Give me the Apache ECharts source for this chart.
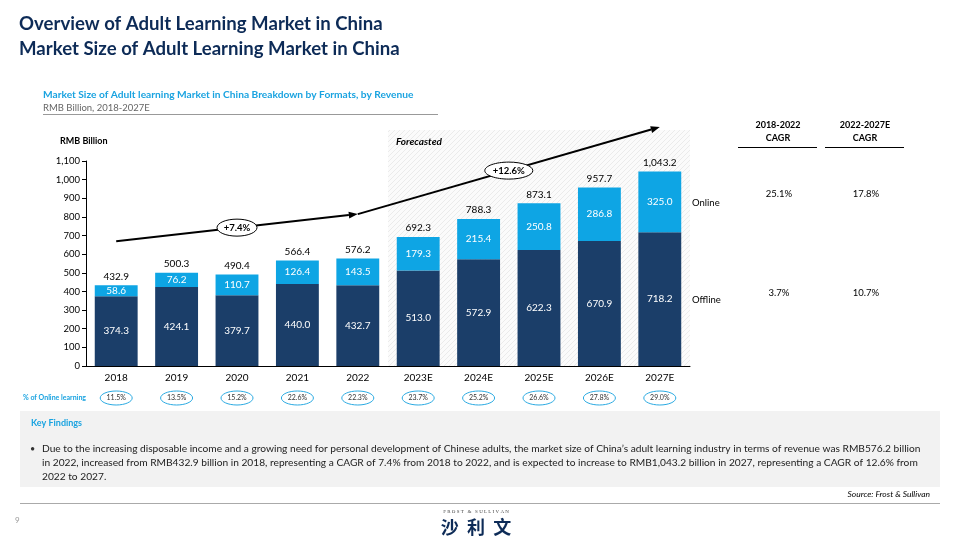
<!DOCTYPE html>
<html><head><meta charset="utf-8">
<script src="https://cdn.jsdelivr.net/npm/echarts@6/dist/echarts.min.js"></script>
<style>html,body{margin:0;padding:0;background:#fff}#c{width:960px;height:540px}</style>
</head><body><div id="c"></div>
<script>
const categories = ['2018','2019','2020','2021','2022','2023E','2024E','2025E','2026E','2027E'];
const offline = [374.3,424.1,379.7,440.0,432.7,513.0,572.9,622.3,670.9,718.2];
const online = [58.6,76.2,110.7,126.4,143.5,179.3,215.4,250.8,286.8,325.0];
const totals = [432.9,500.3,490.4,566.4,576.2,692.3,788.3,873.1,957.7,1043.2];
const onlineShare = ['11.5%','13.5%','15.2%','22.6%','22.3%','23.7%','25.2%','26.6%','27.8%','29.0%'];
const yTicks = [0,100,200,300,400,500,600,700,800,900,1000,1100];
const cagrHeaders = ['2018-2022\nCAGR','2022-2027E\nCAGR'];
const cagrOnline = ['25.1%','17.8%'];
const cagrOffline = ['3.7%','10.7%'];
const periodCagr = ['+7.4%','+12.6%'];

const NAVY = '#1b3e69', BLUE = '#0ea5e4', TITLE = '#0d2b57', SUB = '#1aa3e0';
const FONT = "Lato, 'Open Sans', sans-serif";
const chart = echarts.init(document.getElementById('c'), null, {renderer:'canvas'});

function fmt(v){ return v.toLocaleString('en-US',{minimumFractionDigits:1,maximumFractionDigits:1}); }

chart.setOption({
  animation:false,
  backgroundColor:'#fff',
  grid:{left:86, right:270, top:161, bottom:174, containLabel:false},
  xAxis:{type:'category', data:categories,
    axisLine:{lineStyle:{color:'#000', width:1}}, axisTick:{show:false},
    axisLabel:{color:'#000', fontSize:10, fontFamily:FONT, margin:7}},
  yAxis:{type:'value', min:yTicks[0], max:yTicks[yTicks.length-1], interval:100,
    axisLine:{show:true, lineStyle:{color:'#000'}}, axisTick:{show:true, length:4, lineStyle:{color:'#000'}},
    splitLine:{show:false},
    axisLabel:{color:'#000', fontSize:9.5, fontFamily:FONT, margin:6,
      formatter:v=>v.toLocaleString('en-US')}},
  series:[
    {name:'Offline', type:'bar', stack:'t', data:offline, barWidth:'71%', z:3,
     itemStyle:{color:NAVY},
     label:{show:true, position:'inside', color:'#fff', fontSize:10, fontFamily:FONT, formatter:p=>fmt(p.value)}},
    {name:'Online', type:'bar', stack:'t', data:online, barWidth:'71%', z:3,
     itemStyle:{color:BLUE},
     label:{show:true, position:'inside', color:'#fff', fontSize:10, fontFamily:FONT, formatter:p=>fmt(p.value)}},
    {name:'Total', type:'bar', stack:'t', data:online.map(()=>0), barWidth:'71%', z:3,
     itemStyle:{color:'transparent'},
     label:{show:true, position:'top', distance:4, color:'#000', fontSize:10, fontFamily:FONT,
       formatter:p=>fmt(totals[p.dataIndex])}}
  ]
});

function px(i, v){ return chart.convertToPixel({gridIndex:0}, [i, v]); }

// hatch pattern
const pc = document.createElement('canvas'); pc.width = 5; pc.height = 5;
const g = pc.getContext('2d'); g.fillStyle = '#fbfbfb'; g.fillRect(0,0,5,5);
g.strokeStyle = '#ebebeb'; g.lineWidth = 1; g.beginPath();
g.moveTo(0,5); g.lineTo(5,0); g.moveTo(-1,1); g.lineTo(1,-1); g.moveTo(4,6); g.lineTo(6,4); g.stroke();

const els = [];
function text(x,y,t,o){ els.push({type:'text', x, y, z:10, style:Object.assign({text:t, fontFamily:FONT, fontSize:10, fill:'#000', textVerticalAlign:'middle'}, o||{})}); }

// titles
text(19,24,'Overview of Adult Learning Market in China',{fontSize:18.6, fontWeight:'bold', fill:TITLE});
text(19,49,'Market Size of Adult Learning Market in China',{fontSize:18.6, fontWeight:'bold', fill:TITLE});
text(43,95,'Market Size of Adult learning Market in China Breakdown by Formats, by Revenue',{fontSize:10.2, fontWeight:'bold', fill:SUB});
text(43,108,'RMB Billion, 2018-2027E',{fontSize:9.5, fill:'#666'});
els.push({type:'line', shape:{x1:43,y1:114.5,x2:438,y2:114.5}, style:{stroke:'#999', lineWidth:1}});
text(60,141,'RMB Billion',{fontSize:9, fontWeight:'bold'});

// forecast area
const pA = px(4,0), pB = px(5,0), topP = px(0,1266);
const left = (pA[0]+pB[0])/2, right = 690;
els.push({type:'rect', z:-10, shape:{x:left, y:topP[1], width:right-left, height:pA[1]-topP[1]}, style:{fill:{image:pc, repeat:'repeat'}}});
text(left+8, 142, 'Forecasted', {fontSize:10, fontWeight:'bold', fontStyle:'italic'});

// arrows
function arrow(a,b,label,w){
  const dx=b[0]-a[0], dy=b[1]-a[1], L=Math.hypot(dx,dy), ux=dx/L, uy=dy/L;
  const hl=9, hw=3.5;
  const bx=b[0]-ux*hl, by=b[1]-uy*hl;
  els.push({type:'line', z:12, shape:{x1:a[0],y1:a[1],x2:bx,y2:by}, style:{stroke:'#000', lineWidth:2}});
  els.push({type:'polygon', z:12, shape:{points:[[b[0],b[1]],[bx-uy*hw,by+ux*hw],[bx+uy*hw,by-ux*hw]]}, style:{fill:'#000'}});
  const mx=(a[0]+b[0])/2, my=(a[1]+b[1])/2;
  els.push({type:'ellipse', z:13, shape:{cx:mx, cy:my, rx:w/2, ry:8.5}, style:{fill:'#fff', stroke:'#000', lineWidth:1}});
  els.push({type:'text', z:14, x:mx, y:my, style:{text:label, fontFamily:FONT, fontSize:9.5, fontWeight:'bold', fill:'#000', textAlign:'center', textVerticalAlign:'middle'}});
}
arrow(px(0,670), px(4,815), periodCagr[0], 40);
arrow(px(4,815), px(9,1282), periodCagr[1], 48);

// % of online
text(23,398,'% of Online learning',{fontSize:7, fontWeight:'bold', fill:SUB});
categories.forEach((c,i)=>{
  const p = px(i,0);
  els.push({type:'ellipse', z:10, shape:{cx:p[0], cy:398, rx:16, ry:7}, style:{fill:'none', stroke:'#2aaae2', lineWidth:1}});
  els.push({type:'text', z:11, x:p[0], y:398, style:{text:onlineShare[i], fontFamily:FONT, fontSize:7, fill:'#333', textAlign:'center', textVerticalAlign:'middle'}});
});

// legend labels
text(692,203,'Online',{fontSize:9.5});
text(692,300,'Offline',{fontSize:9.5});

// CAGR table
const colX = [778, 865];
cagrHeaders.forEach((h,i)=>{
  const parts = h.split('\n');
  text(colX[i],125,parts[0],{fontSize:9, fontWeight:'bold', textAlign:'center'});
  text(colX[i],138,parts[1],{fontSize:9, fontWeight:'bold', textAlign:'center'});
  els.push({type:'line', shape:{x1:colX[i]-40,y1:147.5,x2:colX[i]+39,y2:147.5}, style:{stroke:'#000', lineWidth:1}});
  text(colX[i]+1,194,cagrOnline[i],{fontSize:9.5, textAlign:'center'});
  text(colX[i]+1,293,cagrOffline[i],{fontSize:9.5, textAlign:'center'});
});

// key findings
els.push({type:'rect', z:-5, shape:{x:20,y:411,width:920,height:76}, style:{fill:'#f2f2f2'}});
text(31,423,'Key Findings',{fontSize:9, fontWeight:'bold', fill:SUB});
text(30,449,'•',{fontSize:9, fill:'#333'});
const kfLines = [
 "Due to the increasing disposable income and a growing need for personal development of Chinese adults, the market size of China\u2019s adult learning industry in terms of revenue was RMB576.2 billion",
 "in 2022, increased from RMB432.9 billion in 2018, representing a CAGR of 7.4% from 2018 to 2022, and is expected to increase to RMB1,043.2 billion in 2027, representing a CAGR of 12.6% from",
 "2022 to 2027."];
kfLines.forEach((l,i)=>text(42,449+i*14,l,{fontSize:10.2, fill:'#222'}));

// footer
text(930,494,'Source: Frost & Sullivan',{fontSize:8.5, fontStyle:'italic', textAlign:'right'});
els.push({type:'line', shape:{x1:20,y1:503.5,x2:940,y2:503.5}, style:{stroke:'#aaa', lineWidth:1}});
text(15,520,'9',{fontSize:8, fill:'#999'});
text(476,512,'F R O S T   &   S U L L I V A N',{fontSize:5, fill:'#444', textAlign:'center', fontFamily:'Liberation Serif, serif'});
text(476,527,'沙  利  文',{fontSize:18, fontWeight:'bold', fill:TITLE, textAlign:'center', fontFamily:"'Noto Sans CJK SC', sans-serif"});

chart.setOption({graphic:{elements:els}});
</script></body></html>
